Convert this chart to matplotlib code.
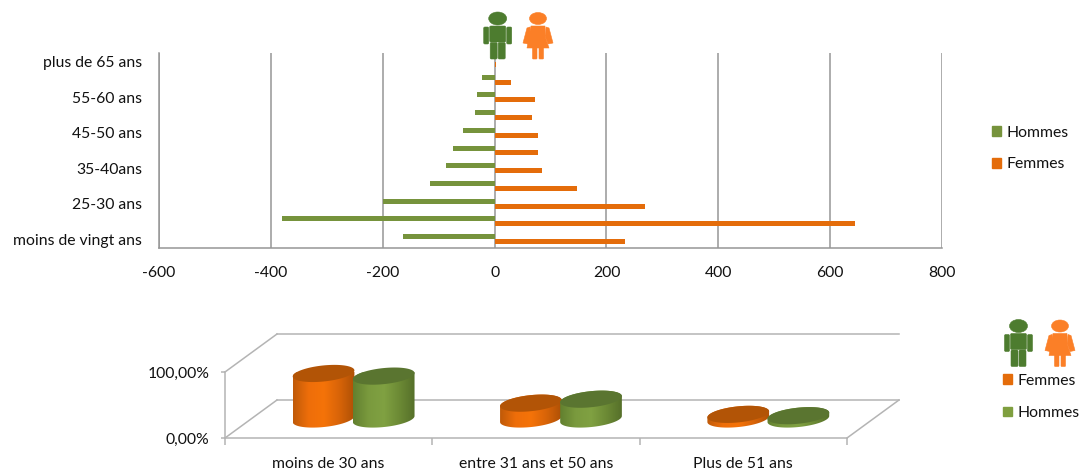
#! /usr/bin/env python3

import numpy as np
import matplotlib
matplotlib.use('Agg')
import matplotlib.pyplot as plt
from matplotlib.colors import LinearSegmentedColormap
from matplotlib.patches import Ellipse, FancyBboxPatch, Patch, PathPatch, Polygon
from matplotlib.path import Path

plt.rcParams['font.family'] = ['Lato', 'DejaVu Sans']

# Pyramid of ages
age_groups = ['moins de vingt ans', '20-25 ans', '25-30 ans', '30-35 ans', '35-40ans', '40-45 ans',
              '45-50 ans', '50-55 ans', '55-60 ans', '60-65 ans', 'plus de 65 ans']
hommes = [-163, -380, -200, -115, -87, -75, -56, -35, -31, -23, 0]
femmes = [233, 645, 269, 148, 85, 77, 78, 67, 73, 29, 2]
x_ticks = [-600, -400, -200, 0, 200, 400, 600, 800]

# Cylinders
groups_3d = ['moins de 30 ans', 'entre 31 ans et 50 ans', 'Plus de 51 ans']
femmes_pct = [69, 24, 7]
hommes_pct = [65, 30, 5]

W, H = 1080, 470
GREEN = '#76933c'
ORANGE = '#e46c0a'
GRID = '#969696'
TEXT = '#111111'
FS = 11.3

# 3D chart geometry, front wall is exactly the axes box
PX_X = (847 - 225) / 3      # pixels per category
PX_Y = (438 - 372) / 100    # pixels per percent
DEPTH_X = 52 / PX_X
DEPTH_Y = 38 / PX_Y


def px_axes(fig, left, top, right, bottom):
    return fig.add_axes([left / W, 1 - bottom / H, (right - left) / W, (bottom - top) / H])


def cylinder(ax, xc, value, cmap, top_color):
    """Tilted cylinder standing in the middle of the floor depth"""
    a, b, tilt = 31.0, 8.0, np.radians(6)
    base_y = 0.5 * DEPTH_Y
    xc = xc + 0.5 * DEPTH_X
    t0 = np.arctan2(b * np.sin(tilt), a * np.cos(tilt))

    def ring(t, y0):
        dx = a * np.cos(t) * np.cos(tilt) - b * np.sin(t) * np.sin(tilt)
        dy = a * np.cos(t) * np.sin(tilt) + b * np.sin(t) * np.cos(tilt)
        return np.column_stack([xc + dx / PX_X, y0 + dy / PX_Y])

    lower = ring(np.linspace(-t0 + np.pi, -t0 + 2 * np.pi, 60), base_y)
    upper = ring(np.linspace(-t0, -t0 + np.pi, 60), base_y + value)
    outline = np.vstack([lower, upper, lower[:1]])

    clip = PathPatch(Path(outline), facecolor='none', edgecolor='none', transform=ax.transData)
    ax.add_patch(clip)
    grad = np.linspace(0, 1, 128).reshape(1, -1)
    half = a / PX_X
    im = ax.imshow(grad, cmap=cmap, aspect='auto', interpolation='bilinear',
                   extent=[xc - half, xc + half, base_y - 30, base_y + value + 30], zorder=3)
    im.set_clip_path(clip)
    im.set_clip_on(True)
    cap = ring(np.linspace(0, 2 * np.pi, 120), base_y + value)
    ax.add_patch(Polygon(cap, closed=True, facecolor=top_color, edgecolor='none', zorder=3, clip_on=False))


def person(ax, cx, top, color, female=False):
    """Small pictogram, drawn in pixels on the overlay"""
    edge = dict(facecolor=color, edgecolor=color, linewidth=0.4)

    def rbox(x0, y0, w, h, r=1.2):
        ax.add_patch(FancyBboxPatch((x0 + r, y0 + r), w - 2 * r, h - 2 * r,
                                    boxstyle='round,pad=%g,rounding_size=%g' % (r, r), **edge))

    if female:
        ax.add_patch(Ellipse((cx, top + 6.5), 17, 12, **edge))
        ax.add_patch(Polygon([(cx - 7, top + 14), (cx + 7, top + 14), (cx + 7, top + 24), (cx + 11, top + 36),
                              (cx - 11, top + 36)], closed=True, **edge))
        ax.add_patch(Polygon([(cx - 8, top + 15), (cx - 11, top + 16), (cx - 15, top + 31), (cx - 10, top + 32),
                              (cx - 7, top + 24)], closed=True, **edge))
        ax.add_patch(Polygon([(cx + 8, top + 15), (cx + 11, top + 16), (cx + 15, top + 31), (cx + 10, top + 32),
                              (cx + 7, top + 24)], closed=True, **edge))
        rbox(cx - 5.5, top + 35, 4.5, 12, 0.8)
        rbox(cx + 1, top + 35, 4.5, 12, 0.8)
    else:
        ax.add_patch(Ellipse((cx, top + 6.5), 18, 13, **edge))
        rbox(cx - 8, top + 14, 16, 16)
        rbox(cx - 14, top + 15, 5, 17)
        rbox(cx + 9, top + 15, 5, 17)
        rbox(cx - 7.5, top + 30.5, 7, 16.5)
        rbox(cx + 0.5, top + 30.5, 7, 16.5)


fig = plt.figure(figsize=(W / 100, H / 100), dpi=100, facecolor='white')

#
# Top chart
#
ax = px_axes(fig, 159, 53, 942, 248)
y = np.arange(len(age_groups))
ax.barh(y + 0.14, hommes, height=0.28, color=GREEN, zorder=3, label='Hommes')
ax.barh(y - 0.14, femmes, height=0.28, color=ORANGE, zorder=3, label='Femmes')
ax.set_xlim(x_ticks[0], x_ticks[-1])
ax.set_ylim(-0.5, len(age_groups) - 0.5)
ax.set_xticks(x_ticks)
ax.set_xticklabels([str(v) for v in x_ticks], fontsize=FS, color=TEXT)
ax.set_yticks(y[::2])
ax.set_yticklabels(age_groups[::2], fontsize=FS, color=TEXT)
ax.tick_params(axis='both', length=0)
ax.tick_params(axis='x', pad=13)
ax.tick_params(axis='y', pad=12)
ax.grid(axis='x', color=GRID, linewidth=1.1, zorder=1)
for side in ['top', 'right']:
    ax.spines[side].set_visible(False)
for side in ['left', 'bottom']:
    ax.spines[side].set_color(GRID)
    ax.spines[side].set_linewidth(1.1)

fig.legend(handles=[Patch(color=GREEN, label='Hommes'), Patch(color=ORANGE, label='Femmes')],
           loc='center left', bbox_to_anchor=(992 / W, 1 - 148.5 / H), frameon=False,
           fontsize=FS, labelcolor=TEXT, handlelength=0.6, handleheight=0.6, handletextpad=0.3,
           labelspacing=1.1, borderpad=0, borderaxespad=0)

#
# Bottom chart
#
ax2 = px_axes(fig, 225, 372, 847, 438)
ax2.set_xlim(0, 3)
ax2.set_ylim(0, 100)
ax2.autoscale(False)
ax2.patch.set_alpha(0)

# walls and floor
for xs, ys in [((0, DEPTH_X), (0, DEPTH_Y)),
               ((0, DEPTH_X), (100, 100 + DEPTH_Y)),
               ((DEPTH_X, 3 + DEPTH_X), (DEPTH_Y, DEPTH_Y)),
               ((DEPTH_X, 3 + DEPTH_X), (100 + DEPTH_Y, 100 + DEPTH_Y)),
               ((3, 3 + DEPTH_X), (0, DEPTH_Y))]:
    ax2.plot(xs, ys, color='#b4b4b4', linewidth=1.1, clip_on=False, zorder=1)

orange_map = LinearSegmentedColormap.from_list('o', ['#c05a08', '#ee6e0a', '#f57308', '#d86408', '#ae5006'])
green_map = LinearSegmentedColormap.from_list('g', ['#62802f', '#7a9a3e', '#80a142', '#6c8a35', '#56702a'])
for i in range(len(groups_3d)):
    cylinder(ax2, i + 0.5 - 0.15, femmes_pct[i], orange_map, '#b25406')
    cylinder(ax2, i + 0.5 + 0.14, hommes_pct[i], green_map, '#5a7530')

ax2.set_xticks([0, 1, 2, 3])
ax2.set_xticklabels([])
ax2.set_xticks([0.5, 1.5, 2.5], minor=True)
ax2.set_xticklabels(groups_3d, minor=True, fontsize=FS, color=TEXT)
ax2.tick_params(axis='x', which='minor', length=0, pad=14)
ax2.tick_params(axis='x', which='major', length=5, color='#b4b4b4', width=1.1)
ax2.set_yticks([0, 100])
ax2.set_yticklabels(['0,00%', '100,00%'], fontsize=FS, color=TEXT)
ax2.tick_params(axis='y', length=3, color='#b4b4b4', width=1.1, pad=8)
for side in ['top', 'right']:
    ax2.spines[side].set_visible(False)
for side in ['left', 'bottom']:
    ax2.spines[side].set_color('#b4b4b4')
    ax2.spines[side].set_linewidth(1.1)

fig.legend(handles=[Patch(color=ORANGE, label='Femmes'), Patch(color='#7f9f3f', label='Hommes')],
           loc='center left', bbox_to_anchor=(1003 / W, 1 - 397 / H), frameon=False,
           fontsize=FS, labelcolor=TEXT, handlelength=0.6, handleheight=0.6, handletextpad=0.3,
           labelspacing=1.15, borderpad=0, borderaxespad=0)

#
# Pictograms on a pixel overlay
#
over = fig.add_axes([0, 0, 1, 1], zorder=5)
over.set_xlim(0, W)
over.set_ylim(H, 0)
over.axis('off')
person(over, 497.7, 12, '#4d7c2f')
person(over, 538, 12, '#fb7f27', female=True)
person(over, 1018.5, 319.5, '#4d7c2f')
person(over, 1060, 319.5, '#fb7f27', female=True)

fig.savefig('out.png', dpi=100, facecolor='white')
